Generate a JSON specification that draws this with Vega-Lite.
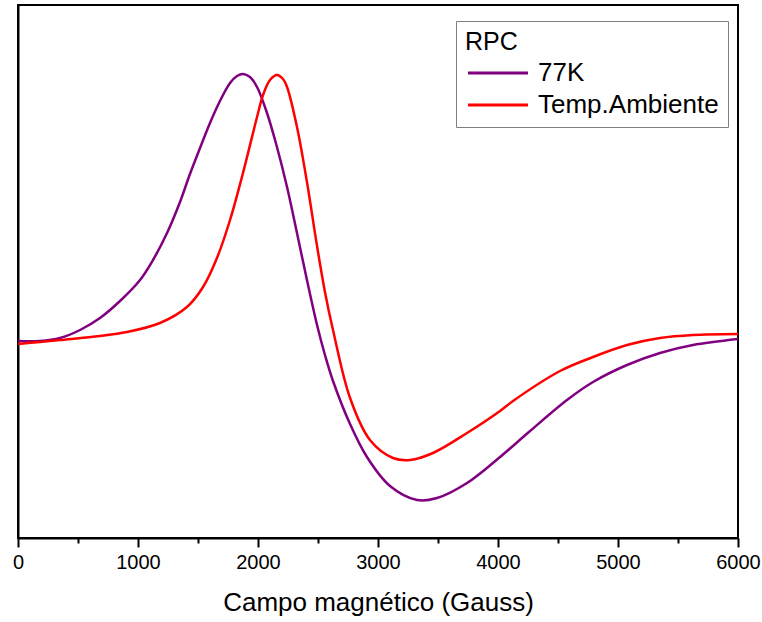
{
  "$schema": "https://vega.github.io/schema/vega-lite/v6.json",
  "width": 720,
  "height": 533,
  "autosize": {"type": "none"},
  "padding": {"left": 18, "top": 5, "right": 24, "bottom": 84},
  "background": "white",
  "config": {
    "font": "Liberation Sans",
    "view": {"stroke": "black", "strokeWidth": 2},
    "axis": {"grid": false}
  },
  "data": {
    "values": [
      {"campo": 0, "senal": 197, "serie": "77K"},
      {"campo": 183, "senal": 197, "serie": "77K"},
      {"campo": 350, "senal": 200, "serie": "77K"},
      {"campo": 517, "senal": 208, "serie": "77K"},
      {"campo": 683, "senal": 220, "serie": "77K"},
      {"campo": 850, "senal": 237, "serie": "77K"},
      {"campo": 1017, "senal": 258, "serie": "77K"},
      {"campo": 1125, "senal": 278, "serie": "77K"},
      {"campo": 1242, "senal": 305, "serie": "77K"},
      {"campo": 1350, "senal": 336, "serie": "77K"},
      {"campo": 1433, "senal": 364, "serie": "77K"},
      {"campo": 1517, "senal": 390, "serie": "77K"},
      {"campo": 1600, "senal": 415, "serie": "77K"},
      {"campo": 1683, "senal": 437, "serie": "77K"},
      {"campo": 1767, "senal": 455, "serie": "77K"},
      {"campo": 1825, "senal": 462, "serie": "77K"},
      {"campo": 1875, "senal": 464, "serie": "77K"},
      {"campo": 1933, "senal": 461, "serie": "77K"},
      {"campo": 1992, "senal": 451, "serie": "77K"},
      {"campo": 2075, "senal": 425, "serie": "77K"},
      {"campo": 2158, "senal": 391, "serie": "77K"},
      {"campo": 2242, "senal": 351, "serie": "77K"},
      {"campo": 2325, "senal": 305, "serie": "77K"},
      {"campo": 2408, "senal": 258, "serie": "77K"},
      {"campo": 2492, "senal": 213, "serie": "77K"},
      {"campo": 2558, "senal": 183, "serie": "77K"},
      {"campo": 2625, "senal": 157, "serie": "77K"},
      {"campo": 2767, "senal": 114, "serie": "77K"},
      {"campo": 2908, "senal": 81, "serie": "77K"},
      {"campo": 3100, "senal": 52, "serie": "77K"},
      {"campo": 3325, "senal": 38, "serie": "77K"},
      {"campo": 3492, "senal": 40, "serie": "77K"},
      {"campo": 3742, "senal": 55, "serie": "77K"},
      {"campo": 4017, "senal": 81, "serie": "77K"},
      {"campo": 4267, "senal": 107, "serie": "77K"},
      {"campo": 4575, "senal": 138, "serie": "77K"},
      {"campo": 4792, "senal": 156, "serie": "77K"},
      {"campo": 5075, "senal": 173, "serie": "77K"},
      {"campo": 5350, "senal": 185, "serie": "77K"},
      {"campo": 5625, "senal": 193, "serie": "77K"},
      {"campo": 6000, "senal": 199, "serie": "77K"},
      {"campo": 0, "senal": 194, "serie": "Temp.Ambiente"},
      {"campo": 183, "senal": 196, "serie": "Temp.Ambiente"},
      {"campo": 350, "senal": 198, "serie": "Temp.Ambiente"},
      {"campo": 683, "senal": 202, "serie": "Temp.Ambiente"},
      {"campo": 908, "senal": 206, "serie": "Temp.Ambiente"},
      {"campo": 1183, "senal": 215, "serie": "Temp.Ambiente"},
      {"campo": 1408, "senal": 231, "serie": "Temp.Ambiente"},
      {"campo": 1542, "senal": 251, "serie": "Temp.Ambiente"},
      {"campo": 1658, "senal": 280, "serie": "Temp.Ambiente"},
      {"campo": 1767, "senal": 318, "serie": "Temp.Ambiente"},
      {"campo": 1875, "senal": 365, "serie": "Temp.Ambiente"},
      {"campo": 1992, "senal": 421, "serie": "Temp.Ambiente"},
      {"campo": 2042, "senal": 443, "serie": "Temp.Ambiente"},
      {"campo": 2100, "senal": 458, "serie": "Temp.Ambiente"},
      {"campo": 2158, "senal": 463, "serie": "Temp.Ambiente"},
      {"campo": 2208, "senal": 459, "serie": "Temp.Ambiente"},
      {"campo": 2242, "senal": 451, "serie": "Temp.Ambiente"},
      {"campo": 2325, "senal": 411, "serie": "Temp.Ambiente"},
      {"campo": 2408, "senal": 356, "serie": "Temp.Ambiente"},
      {"campo": 2492, "senal": 292, "serie": "Temp.Ambiente"},
      {"campo": 2558, "senal": 246, "serie": "Temp.Ambiente"},
      {"campo": 2625, "senal": 208, "serie": "Temp.Ambiente"},
      {"campo": 2767, "senal": 140, "serie": "Temp.Ambiente"},
      {"campo": 2933, "senal": 98, "serie": "Temp.Ambiente"},
      {"campo": 3125, "senal": 80, "serie": "Temp.Ambiente"},
      {"campo": 3267, "senal": 78, "serie": "Temp.Ambiente"},
      {"campo": 3458, "senal": 85, "serie": "Temp.Ambiente"},
      {"campo": 3742, "senal": 105, "serie": "Temp.Ambiente"},
      {"campo": 4017, "senal": 127, "serie": "Temp.Ambiente"},
      {"campo": 4125, "senal": 137, "serie": "Temp.Ambiente"},
      {"campo": 4517, "senal": 167, "serie": "Temp.Ambiente"},
      {"campo": 4792, "senal": 181, "serie": "Temp.Ambiente"},
      {"campo": 5075, "senal": 193, "serie": "Temp.Ambiente"},
      {"campo": 5350, "senal": 200, "serie": "Temp.Ambiente"},
      {"campo": 5625, "senal": 203, "serie": "Temp.Ambiente"},
      {"campo": 6000, "senal": 204, "serie": "Temp.Ambiente"}
    ]
  },
  "mark": {"type": "line", "strokeWidth": 2.5, "interpolate": "catmull-rom"},
  "encoding": {
    "x": {
      "field": "campo",
      "type": "quantitative",
      "scale": {"domain": [0, 6000], "nice": false, "zero": false},
      "axis": {
        "title": "Campo magnético (Gauss)",
        "values": [0, 500, 1000, 1500, 2000, 2500, 3000, 3500, 4000, 4500, 5000, 5500, 6000],
        "labelExpr": "datum.value % 1000 === 0 ? datum.label : ''",
        "format": "d",
        "labelFlush": false,
        "labelOverlap": false,
        "labelFontSize": 20,
        "labelColor": "black",
        "labelPadding": 5,
        "tickColor": "black",
        "tickWidth": 2,
        "tickSize": {"condition": {"test": "datum.value % 1000 === 0", "value": 9}, "value": 5},
        "domainColor": "black",
        "domainWidth": 2,
        "titleFontSize": 26,
        "titleFontWeight": "normal",
        "titleColor": "black",
        "titlePadding": 17
      }
    },
    "y": {
      "field": "senal",
      "type": "quantitative",
      "scale": {"domain": [0, 533], "nice": false, "zero": false},
      "axis": {
        "title": null,
        "labels": false,
        "ticks": false,
        "domainColor": "black",
        "domainWidth": 2
      }
    },
    "color": {
      "field": "serie",
      "type": "nominal",
      "scale": {"domain": ["77K", "Temp.Ambiente"], "range": ["#800080", "#ff0000"]},
      "legend": {
        "title": "RPC",
        "orient": "none",
        "legendX": 438,
        "legendY": 16,
        "direction": "vertical",
        "padding": 9,
        "strokeColor": "#808080",
        "fillColor": "white",
        "titleFontSize": 25,
        "titleFontWeight": "normal",
        "titleColor": "black",
        "titlePadding": 5,
        "labelFontSize": 26,
        "labelColor": "black",
        "symbolType": "M-1,0H5",
        "symbolSize": 400,
        "symbolStrokeWidth": 3,
        "labelOffset": 47,
        "rowPadding": 6,
        "labelLimit": 400
      }
    }
  }
}
